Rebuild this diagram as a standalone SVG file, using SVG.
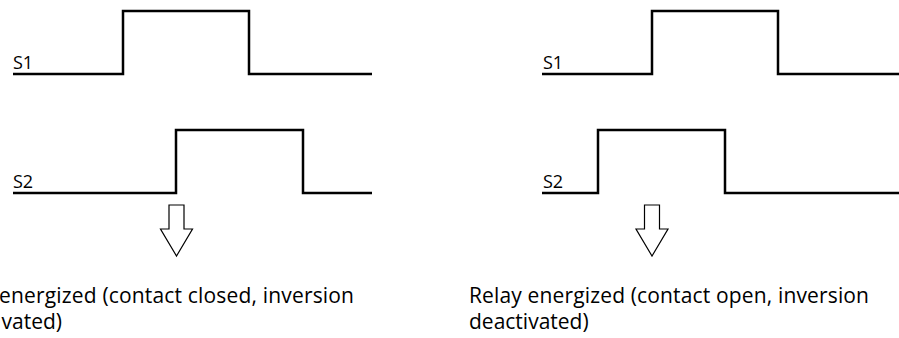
<svg xmlns="http://www.w3.org/2000/svg" width="899" height="338" viewBox="0 0 899 338">
  <style>
    .sig { fill: none; stroke: #000; stroke-width: 2.5; stroke-linejoin: miter; }
    .arrow { fill: #fff; stroke: #000; stroke-width: 1.2; stroke-linejoin: miter; }
    .lbl { font-family: "Open Sans", "Liberation Sans", sans-serif; font-size: 18px; fill: #000; }
    .cap { font-family: "Open Sans", "Liberation Sans", sans-serif; font-size: 21px; fill: #000; }
  </style>
  <defs>
    <!-- hollow down arrow, tip at origin -->
    <path id="downArrow" class="arrow" d="M-7.5,-51 H7.5 V-27 H16 L0,0 L-16,-27 H-7.5 Z"/>
  </defs>

  <!-- left case: S2 follows S1 -->
  <g id="left-s1">
    <text class="lbl" x="13" y="69">S1</text>
    <path class="sig" d="M13,74 H123 V11 H249 V74 H372"/>
  </g>
  <g id="left-s2">
    <text class="lbl" x="13" y="188">S2</text>
    <path class="sig" d="M13,193 H176 V130 H303 V193 H372"/>
  </g>
  <g id="left-result">
    <use href="#downArrow" x="176.5" y="256"/>
    <text class="cap" x="-1" y="303" textLength="355" lengthAdjust="spacing">energized (contact closed, inversion</text>
    <text class="cap" x="62" y="329" text-anchor="end">vated)</text>
  </g>

  <!-- right case: S2 leads S1 -->
  <g id="right-s1">
    <text class="lbl" x="543" y="69">S1</text>
    <path class="sig" d="M542,74 H652 V11 H778 V74 H899"/>
  </g>
  <g id="right-s2">
    <text class="lbl" x="543" y="188">S2</text>
    <path class="sig" d="M542,193 H598 V130 H725 V193 H899"/>
  </g>
  <g id="right-result">
    <use href="#downArrow" x="652" y="256"/>
    <text class="cap" x="469" y="303" textLength="400" lengthAdjust="spacing">Relay energized (contact open, inversion</text>
    <text class="cap" x="469" y="329">deactivated)</text>
  </g>
</svg>
